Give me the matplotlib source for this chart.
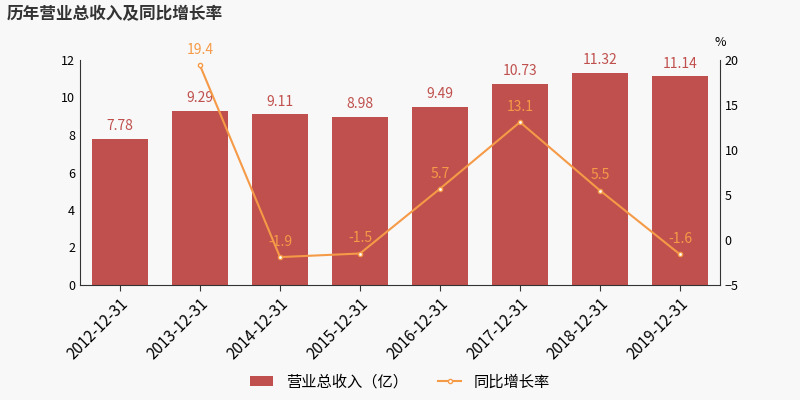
import matplotlib.pyplot as plt

plt.rcParams['font.family'] = ['Noto Sans CJK SC', 'DejaVu Sans']

#### data
years = ['2012-12-31', '2013-12-31', '2014-12-31', '2015-12-31',
         '2016-12-31', '2017-12-31', '2018-12-31', '2019-12-31']
revenue = [7.78, 9.29, 9.11, 8.98, 9.49, 10.73, 11.32, 11.14]
growth = [None, 19.4, -1.9, -1.5, 5.7, 13.1, 5.5, -1.6]

bar_color = '#c0504d'
line_color = '#f59a47'
bg = '#f8f8f8'

fig = plt.figure(figsize=(8, 4), dpi=100, facecolor=bg)
ax1 = fig.add_axes([0.1, 0.2875, 0.8, 0.5625])
ax1.set_facecolor(bg)
x = list(range(len(years)))

bars = ax1.bar(x, revenue, width=0.7, color=bar_color, label='营业总收入（亿）')
for xi, v in zip(x, revenue):
    ax1.text(xi, v + 0.3, '%.2f' % v, ha='center', va='bottom', color=bar_color, fontsize=10)
ax1.set_ylim(0, 12)
ax1.set_yticks(range(0, 13, 2))
ax1.set_xlim(-0.5, len(years) - 0.5)
ax1.set_xticks(x)
ax1.set_xticklabels(years, rotation=45, ha='right', rotation_mode='anchor', fontsize=11)
ax1.tick_params(axis='y', labelsize=9, length=0)
ax1.tick_params(axis='x', length=4, color='#333333')
for s in ['top', 'right']:
    ax1.spines[s].set_visible(False)
ax1.spines['left'].set_color('#333333')
ax1.spines['bottom'].set_color('#333333')

ax2 = ax1.twinx()
gx = [xi for xi, g in zip(x, growth) if g is not None]
gy = [g for g in growth if g is not None]
ax2.plot(gx, gy, color=line_color, marker='o', markersize=3,
         markerfacecolor='white', linewidth=1.5, label='同比增长率')
for xi, g in zip(gx, gy):
    ax2.text(xi, g + 0.9, '%.1f' % g, ha='center', va='bottom', color=line_color, fontsize=10)
ax2.set_ylim(-5, 20)
ax2.set_yticks(range(-5, 21, 5))
ax2.tick_params(axis='y', labelsize=9, length=0)
for s in ['top', 'left', 'bottom']:
    ax2.spines[s].set_visible(False)
ax2.spines['right'].set_color('#333333')
ax2.text(1.0, 1.06, '%', transform=ax2.transAxes, ha='center', fontsize=9)

fig.text(0.008, 0.965, '历年营业总收入及同比增长率', fontsize=12, fontweight='bold',
         color='#333333', va='center')

h1, l1 = ax1.get_legend_handles_labels()
h2, l2 = ax2.get_legend_handles_labels()
fig.legend(h1 + h2, l1 + l2, loc='lower center', bbox_to_anchor=(0.5, -0.01),
           ncol=2, frameon=False, fontsize=11, handlelength=1.5)

fig.savefig('out.png', facecolor=bg)
